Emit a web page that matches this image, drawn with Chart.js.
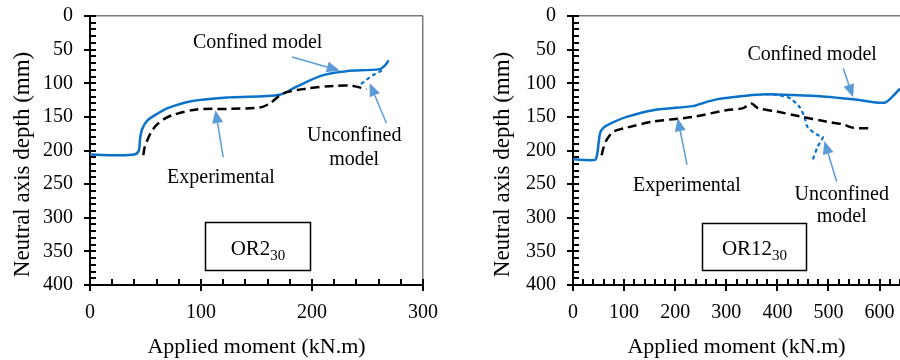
<!DOCTYPE html>
<html>
<head>
<meta charset="utf-8">
<script src="https://cdn.jsdelivr.net/npm/chart.js@4/dist/chart.umd.min.js"></script>
<style>
  html, body { margin: 0; padding: 0; background: #fff; overflow: hidden; }
  canvas { position: absolute; top: 0; }
  #chartOR2 { left: 0; }
  #chartOR12 { left: 450px; }
</style>
</head>
<body>
<canvas id="chartOR2" width="450" height="360"></canvas>
<canvas id="chartOR12" width="450" height="360"></canvas>
<script>
// OR2_30 - valores
const or2ConfX = [0, 20, 40, 44, 45, 47, 52, 60, 70, 90, 126, 171, 186, 210, 231, 261, 266, 269];
const or2ConfY = [206, 207, 206, 200, 184, 168, 155, 146, 137, 127, 121, 117, 105, 88, 82, 79, 73, 66];
const or2ExpX = [48, 49, 51, 55, 60, 67, 75, 96, 126, 153, 162, 174, 195, 219, 237, 249];
const or2ExpY = [207, 197, 187, 173, 162, 153, 147, 139, 138, 136, 130, 115, 108, 104, 104, 109];
const or2UnconfX = [263, 255, 249, 242];
const or2UnconfY = [81, 88, 95, 104];

// OR12_30
const or12ConfX = [0, 20, 43, 47, 50, 53, 60, 73, 105, 157, 235, 248, 281, 339, 378, 430, 495, 560, 609, 625, 640];
const or12ConfY = [213, 214, 214, 207, 190, 174, 166, 160, 150, 140, 134, 131, 124, 118.5, 116.5, 117.5, 120, 125, 129, 120, 108];
const or12ExpX = [56, 60, 66, 79, 105, 157, 235, 300, 333, 349, 362, 398, 443, 495, 528, 547, 580];
const or12ExpY = [207, 195, 184, 172, 166, 157, 150, 140, 137, 130, 137, 142, 149, 157, 161, 166, 167];
const or12UnconfX = [378, 391, 410, 424, 443, 453, 459, 479, 489, 479, 469];
const or12UnconfY = [116.5, 116.5, 119, 122, 135, 150, 165, 177, 180, 194, 214];

// Eixos
const yTicks = [0, 50, 100, 150, 200, 250, 300, 350, 400];
const xTicksOR2 = [0, 100, 200, 300];
const xTicksOR12 = [0, 100, 200, 300, 400, 500, 600];
const yMinorStep = 10;
const xMinorStep = 20;

const AZUL = '#0a72c8';
const SETA = '#5b9bd5';
const FONTE = "'Liberation Serif', 'Times New Roman', serif";

function pontos(xs, ys) {
  return xs.map((x, i) => ({ x: x, y: ys[i] }));
}

// Moldura e ticks (maiores cruzam o eixo, menores só para dentro)
const eixos = {
  id: 'eixos',
  afterDraw(chart, args, opts) {
    const { ctx, chartArea: a, scales: { x, y } } = chart;
    const L = Math.round(a.left), B = Math.round(a.bottom), T = Math.round(a.top), R = Math.round(a.right);
    ctx.save();
    ctx.fillStyle = '#7a7a7a';
    ctx.fillRect(L, T - 1, R - L, 1.5);
    if (opts.frameRight) ctx.fillRect(R - 1, T, 1.5, B - T);

    ctx.fillStyle = '#000';
    for (let v = 0; v <= 400; v += yMinorStep) {
      const py = Math.round(y.getPixelForValue(v));
      if (yTicks.indexOf(v) >= 0) ctx.fillRect(L - 6, py - 1, 12, 2);
      else ctx.fillRect(L, py - 1, 6, 2);
    }
    for (let v = 0; v <= x.max; v += xMinorStep) {
      const px = Math.round(x.getPixelForValue(v));
      if (opts.xTicks.indexOf(v) >= 0) ctx.fillRect(px - 1, B - 6, 2, 12);
      else ctx.fillRect(px - 1, B - 6, 2, 6);
    }
    ctx.restore();
  }
};

// Título do eixo y, setas, rótulos e caixa
const notas = {
  id: 'notas',
  afterDatasetsDraw(chart, args, opts) {
    const { ctx, chartArea: a, scales: { x, y } } = chart;
    ctx.save();

    ctx.fillStyle = '#000';
    ctx.font = '23px ' + FONTE;
    ctx.textAlign = 'center';
    ctx.textBaseline = 'middle';
    ctx.translate(opts.yTitleX, (a.top + a.bottom) / 2 + 14);
    ctx.rotate(-Math.PI / 2);
    ctx.fillText('Neutral axis depth (mm)', 0, 0);
    ctx.setTransform(1, 0, 0, 1, 0, 0);

    // setas
    ctx.setLineDash([]);
    ctx.strokeStyle = SETA;
    ctx.fillStyle = SETA;
    ctx.lineWidth = 1.5;
    opts.arrows.forEach(s => {
      const x0 = x.getPixelForValue(s.from[0]), y0 = y.getPixelForValue(s.from[1]);
      const x1 = x.getPixelForValue(s.to[0]), y1 = y.getPixelForValue(s.to[1]);
      const ang = Math.atan2(y1 - y0, x1 - x0);
      const L = 13, W = 5.5;
      const bx = x1 - L * Math.cos(ang), by = y1 - L * Math.sin(ang);
      ctx.beginPath();
      ctx.moveTo(x0, y0);
      ctx.lineTo(bx, by);
      ctx.stroke();
      ctx.beginPath();
      ctx.moveTo(x1, y1);
      ctx.lineTo(bx + W * Math.sin(ang), by - W * Math.cos(ang));
      ctx.lineTo(bx - W * Math.sin(ang), by + W * Math.cos(ang));
      ctx.closePath();
      ctx.fill();
    });

    // textos
    ctx.fillStyle = '#000';
    ctx.font = '20px ' + FONTE;
    opts.notes.forEach(n => {
      ctx.fillText(n.text, x.getPixelForValue(n.at[0]), y.getPixelForValue(n.at[1]));
    });

    // caixa com nome da viga
    const b = opts.box;
    const bx0 = Math.round(x.getPixelForValue(b.x0)) + 0.5, bx1 = Math.round(x.getPixelForValue(b.x1)) + 0.5;
    const by0 = Math.round(y.getPixelForValue(b.y0)) + 0.5, by1 = Math.round(y.getPixelForValue(b.y1)) + 0.5;
    ctx.strokeStyle = '#000';
    ctx.lineWidth = 1.5;
    ctx.strokeRect(bx0, by0, bx1 - bx0, by1 - by0);
    ctx.font = '21px ' + FONTE;
    const w1 = ctx.measureText(b.text).width;
    ctx.font = '15px ' + FONTE;
    const w2 = ctx.measureText(b.sub).width;
    const cx = (bx0 + bx1) / 2, cy = (by0 + by1) / 2 + 1;
    ctx.textAlign = 'left';
    ctx.textBaseline = 'alphabetic';
    ctx.font = '21px ' + FONTE;
    ctx.fillText(b.text, cx - (w1 + w2) / 2, cy + 7);
    ctx.font = '15px ' + FONTE;
    ctx.fillText(b.sub, cx - (w1 + w2) / 2 + w1, cy + 12);

    ctx.restore();
  }
};

function criarGrafico(id, cfg) {
  const ctx = document.getElementById(id).getContext('2d');
  return new Chart(ctx, {
    type: 'scatter',
    data: {
      datasets: [
        {
          label: 'Experimental',
          data: pontos(cfg.expX, cfg.expY),
          showLine: true,
          borderColor: '#000',
          borderWidth: 2.5,
          borderDash: [9, 5],
          pointRadius: 0,
          tension: 0.3
        },
        {
          label: 'Unconfined model',
          data: pontos(cfg.uncX, cfg.uncY),
          showLine: true,
          borderColor: AZUL,
          borderWidth: 2.2,
          borderDash: [4, 3],
          pointRadius: 0,
          tension: 0.3
        },
        {
          label: 'Confined model',
          data: pontos(cfg.confX, cfg.confY),
          showLine: true,
          borderColor: AZUL,
          borderWidth: 2.5,
          pointRadius: 0,
          tension: 0.3
        }
      ]
    },
    options: {
      responsive: false,
      animation: false,
      devicePixelRatio: 1,
      layout: { padding: { top: 16, right: cfg.padRight, left: 0, bottom: 0 } },
      plugins: {
        legend: { display: false },
        tooltip: { enabled: false },
        eixos: { xTicks: cfg.xTicks, frameRight: cfg.frameRight },
        notas: {
          yTitleX: cfg.yTitleX,
          arrows: cfg.arrows,
          notes: cfg.notes,
          box: cfg.box
        }
      },
      scales: {
        x: {
          type: 'linear',
          min: 0,
          max: cfg.xMax,
          afterBuildTicks: s => { s.ticks = cfg.xTicks.map(v => ({ value: v })); },
          afterFit: s => { s.height = 75; },
          grid: { display: false, drawTicks: true, tickLength: 16 },
          border: { display: true, color: '#000', width: 2 },
          ticks: { color: '#000', font: { family: FONTE, size: 20 }, padding: 0, maxRotation: 0 },
          title: {
            display: true,
            text: 'Applied moment (kN.m)',
            color: '#000',
            font: { family: FONTE, size: 22 },
            padding: { top: 0, bottom: 0 }
          }
        },
        y: {
          type: 'linear',
          reverse: true,
          min: 0,
          max: 400,
          afterBuildTicks: s => { s.ticks = yTicks.map(v => ({ value: v })); },
          afterFit: s => { s.width = cfg.yWidth; },
          grid: { display: false, drawTicks: true, tickLength: 17 },
          border: { display: true, color: '#000', width: 2 },
          ticks: { color: '#000', font: { family: FONTE, size: 20 }, padding: 0 }
        }
      }
    },
    plugins: [notas, eixos]
  });
}

criarGrafico('chartOR2', {
  expX: or2ExpX, expY: or2ExpY,
  uncX: or2UnconfX, uncY: or2UnconfY,
  confX: or2ConfX, confY: or2ConfY,
  xMax: 300,
  xTicks: xTicksOR2,
  padRight: 27,
  yWidth: 90,
  yTitleX: 23,
  frameRight: true,
  notes: [
    { text: 'Confined model', at: [151, 40] },
    { text: 'Unconfined', at: [238, 178] },
    { text: 'model', at: [238, 214] },
    { text: 'Experimental', at: [118, 241] }
  ],
  arrows: [
    { from: [182, 61], to: [225, 81] },
    { from: [267, 159], to: [252, 100] },
    { from: [120, 210], to: [113, 140] }
  ],
  box: { x0: 104, x1: 198.5, y0: 307, y1: 378, text: 'OR2', sub: '30' }
});

criarGrafico('chartOR12', {
  expX: or12ExpX, expY: or12ExpY,
  uncX: or12UnconfX, uncY: or12UnconfY,
  confX: or12ConfX, confY: or12ConfY,
  xMax: 640,
  xTicks: xTicksOR12,
  padRight: 0,
  yWidth: 123,
  yTitleX: 53,
  frameRight: false,
  notes: [
    { text: 'Confined model', at: [468, 58] },
    { text: 'Experimental', at: [223, 253] },
    { text: 'Unconfined', at: [526, 266] },
    { text: 'model', at: [526, 299] }
  ],
  arrows: [
    { from: [529, 78], to: [548, 121] },
    { from: [223, 221], to: [205, 152] },
    { from: [516, 246], to: [492, 186] }
  ],
  box: { x0: 252, x1: 456, y0: 308, y1: 378, text: 'OR12', sub: '30' }
});
</script>
</body>
</html>
